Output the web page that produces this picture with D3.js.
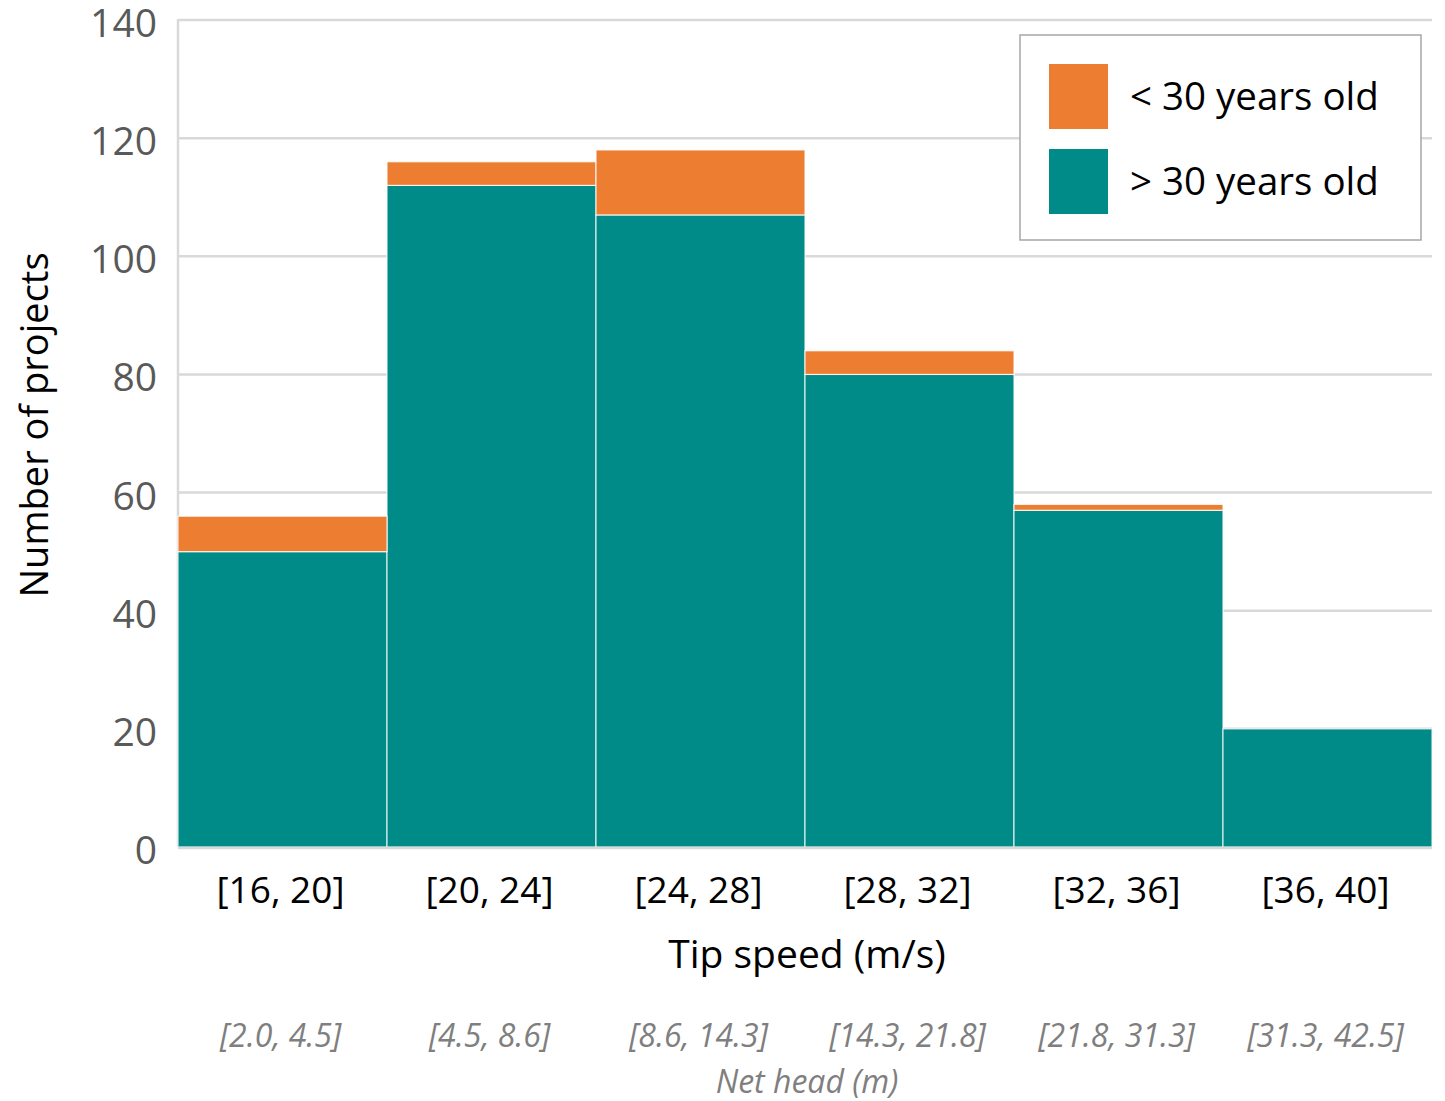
<!DOCTYPE html>
<html><head><meta charset="utf-8">
<script src="https://cdn.jsdelivr.net/npm/d3@7"></script>
<style>body{margin:0;background:#fff}svg{display:block}</style>
</head><body>
<svg id="c" width="1445" height="1101"></svg>
<script>
const categories = ["[16, 20]","[20, 24]","[24, 28]","[28, 32]","[32, 36]","[36, 40]"];
const netHead = ["[2.0, 4.5]","[4.5, 8.6]","[8.6, 14.3]","[14.3, 21.8]","[21.8, 31.3]","[31.3, 42.5]"];
const older = [50,112,107,80,57,20];   // > 30 years old
const younger = [6,4,11,4,1,0];        // < 30 years old
const yTicks = [0,20,40,60,80,100,120,140];
const seriesNames = ["< 30 years old","> 30 years old"];
const colors = {young:"#ED7D31", old:"#008A88"};

const svg = d3.select("#c");
const font = "'Open Sans', sans-serif";
const L=178, R=1432, T=20, B=847;
const x = d3.scaleBand().domain(categories).range([L,R]).padding(0);
const y = d3.scaleLinear().domain([0,140]).range([B,T]);

// gridlines
svg.append("g").selectAll("line").data(yTicks.filter(d=>d>0)).join("line")
  .attr("x1",L).attr("x2",R).attr("y1",d=>y(d)).attr("y2",d=>y(d))
  .attr("stroke","#d9d9d9").attr("stroke-width",2.5);
// left axis line
svg.append("line").attr("x1",L).attr("x2",L).attr("y1",T-1).attr("y2",B)
  .attr("stroke","#d9d9d9").attr("stroke-width",2.5);

const data = categories.map((c,i)=>({c, old:older[i], young:younger[i]}));
const stack = d3.stack().keys(["old","young"])(data);
svg.append("g").selectAll("g").data(stack).join("g")
  .attr("fill",d=>d.key==="old"?colors.old:colors.young)
  .selectAll("rect").data(d=>d.filter(e=>e[1]-e[0]>0)).join("rect")
  .attr("x",d=>x(d.data.c)).attr("width",x.bandwidth())
  .attr("y",d=>y(d[1])).attr("height",d=>y(d[0])-y(d[1]))
  .attr("stroke","#ffffff").attr("stroke-width",1.2).attr("stroke-opacity",0.8);

// baseline
svg.append("line").attr("x1",L).attr("x2",R).attr("y1",B+1).attr("y2",B+1)
  .attr("stroke","#d9d9d9").attr("stroke-width",2.5);

// y ticks
svg.append("g").selectAll("text").data(yTicks).join("text")
  .attr("x",157).attr("y",d=>y(d)+17).attr("text-anchor","end")
  .attr("font-family",font).attr("font-size",39).attr("fill","#595959").text(d=>d);

// category labels
svg.append("g").selectAll("text").data(categories).join("text")
  .attr("x",d=>x(d)+x.bandwidth()/2-2).attr("y",903).attr("text-anchor","middle")
  .attr("font-family",font).attr("font-size",37).attr("fill","#000").text(d=>d);
svg.append("text").attr("x",807).attr("y",968).attr("text-anchor","middle")
  .attr("font-family",font).attr("font-size",39).attr("fill","#000").text("Tip speed (m/s)");

// net head labels
svg.append("g").selectAll("text").data(netHead).join("text")
  .attr("x",(d,i)=>x(categories[i])+x.bandwidth()/2-2).attr("y",1047).attr("text-anchor","middle")
  .attr("font-family",font).attr("font-style","italic").attr("font-size",32).attr("fill","#7f7f7f").text(d=>d);
svg.append("text").attr("x",807).attr("y",1093).attr("text-anchor","middle")
  .attr("font-family",font).attr("font-style","italic").attr("font-size",32).attr("fill","#7f7f7f").text("Net head (m)");

// y title
svg.append("text").attr("transform","translate(48,425) rotate(-90)").attr("text-anchor","middle")
  .attr("font-family",font).attr("font-size",38).attr("fill","#000").text("Number of projects");

// legend
const lg = svg.append("g");
lg.append("rect").attr("x",1020).attr("y",35).attr("width",401).attr("height",205)
  .attr("fill","#fff").attr("stroke","#a6a6a6").attr("stroke-width",1.5);
const lgItems = [{n:seriesNames[0],c:colors.young,y:64},{n:seriesNames[1],c:colors.old,y:149}];
lg.selectAll("rect.sw").data(lgItems).join("rect").attr("class","sw")
  .attr("x",1049).attr("y",d=>d.y).attr("width",59).attr("height",65).attr("fill",d=>d.c);
lg.selectAll("text").data(lgItems).join("text")
  .attr("x",1130).attr("y",d=>d.y+46).attr("font-family",font).attr("font-size",38.5).attr("fill","#000")
  .text(d=>d.n);
</script>
</body></html>
